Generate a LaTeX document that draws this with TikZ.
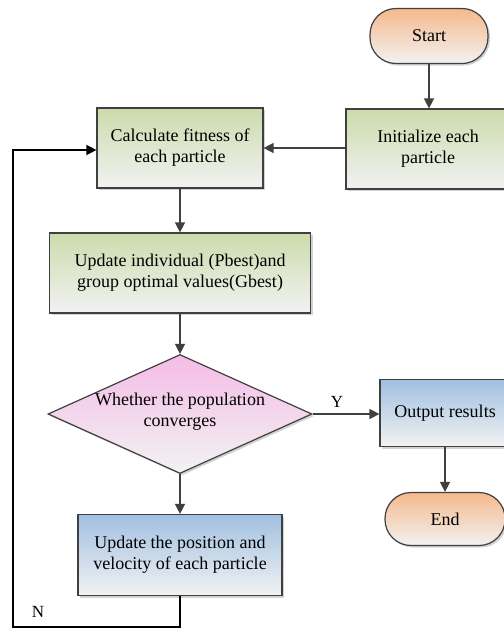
\documentclass[tikz,border=0pt]{standalone}
\usepackage{fontspec}
\setmainfont{Liberation Serif}
\usetikzlibrary{arrows.meta,shapes.geometric,shadows}
\definecolor{edge}{RGB}{64,64,64}
\definecolor{greentop}{RGB}{204,219,172}
\definecolor{bluetop}{RGB}{160,192,224}
\definecolor{orangetop}{RGB}{245,185,140}
\definecolor{pinktop}{RGB}{244,188,230}
\definecolor{shadebot}{RGB}{242,242,242}
\tikzset{
  txt/.style={font=\fontsize{18}{21}\selectfont},
  base/.style={draw=edge, line width=1.2pt, align=center, txt, inner sep=0pt, drop shadow={shadow xshift=2pt, shadow yshift=-2pt, opacity=0.35}},
  greenbox/.style={base, rectangle, top color=greentop, bottom color=shadebot},
  bluebox/.style={base, rectangle, top color=bluetop, bottom color=shadebot},
  pill/.style={base, rectangle, rounded corners=26pt, top color=orangetop, bottom color=shadebot},
  decision/.style={base, diamond, aspect=2.22, top color=pinktop, bottom color=shadebot},
  arr/.style={draw=edge, line width=1.4pt, -{Triangle[length=10pt,width=10pt]}},
  lbl/.style={font=\fontsize{17}{20}\selectfont, inner sep=0pt}
}
\begin{document}
\begin{tikzpicture}[x=1pt,y=-1pt]
\useasboundingbox (0,0) rectangle (504,630);
\fill[white] (0,0) rectangle (504,630);
\node[pill, minimum width=118pt, minimum height=55pt] (start) at (429,36) {Start};
\node[greenbox, minimum width=164pt, minimum height=80pt] (init) at (428,149) {Initialize each\\particle};
\node[greenbox, minimum width=166pt, minimum height=80pt] (calc) at (180,148) {Calculate fitness of\\each particle};
\node[greenbox, minimum width=261pt, minimum height=80pt] (upd) at (180,273) {Update individual (Pbest)and\\group optimal values(Gbest)};
\node[decision, minimum width=264pt, minimum height=119pt] (dec) at (180,414) {};
\node[txt, align=center] at (180,412) {Whether the population\\converges};
\node[bluebox, minimum width=130pt, minimum height=67pt] (out) at (445,413) {Output results};
\node[pill, minimum width=120pt, minimum height=53pt] (end) at (445,519) {End};
\node[bluebox, minimum width=204pt, minimum height=81pt] (pos) at (180,555) {Update the position and\\velocity of each particle};
\coordinate (c1) at (180,627);
\coordinate (c2) at (13,627);
\coordinate (c3) at (13,150);
\draw[arr] (start) -- (init.north -| start);
\draw[arr] (init.west |- calc.east) -- (calc.east);
\draw[arr] (calc) -- (upd);
\draw[arr] (upd) -- (dec.north);
\draw[arr] (dec.east) -- (out.west |- dec.east);
\draw[arr] (out.south -| end) -- (end.north);
\draw[arr] (dec.south) -- (pos.north);
\draw[line width=1.4pt, -{Triangle[length=10pt,width=10pt]}] (pos.south) -- (c1) -- (c2) -- (c3) -- (calc.west |- c3);
\node[lbl] (y) at (337,402) {Y};
\node[lbl] (n) at (38,612) {N};
\end{tikzpicture}
\end{document}
